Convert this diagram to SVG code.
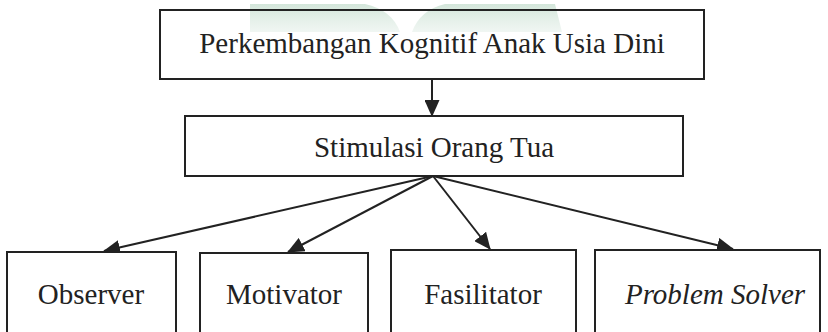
<svg xmlns="http://www.w3.org/2000/svg" width="828" height="332" viewBox="0 0 828 332">
<style>
.box{fill:none;stroke:#222;stroke-width:2}
.bx{fill:#fff;stroke:#222;stroke-width:2}
.c{stroke:#222;stroke-width:2;fill:none;marker-end:url(#ah)}
</style>
<defs>
<marker id="ah" markerUnits="userSpaceOnUse" markerWidth="17" markerHeight="15" refX="16" refY="7.5" orient="auto">
<path d="M0,0 L17,7.5 L0,15 Z" fill="#222"/>
</marker>
<linearGradient id="wm" x1="0" y1="0" x2="0" y2="1">
<stop offset="0" stop-color="#d3e6da"/>
<stop offset="1" stop-color="#e6f0ea" stop-opacity="0.6"/>
</linearGradient>
</defs>
<g id="watermark" fill="url(#wm)">
<path d="M250,4 L365,4 Q392,10 400,32 L250,32 Z"/>
<path d="M445,4 L555,4 L562,32 L412,32 Q420,10 445,4 Z"/>
</g>
<g id="connectors">
<line class="c" x1="432" y1="79" x2="432" y2="116"/>
<line class="c" x1="433" y1="176" x2="104" y2="251"/>
<line class="c" x1="433" y1="176" x2="288" y2="252"/>
<line class="c" x1="433" y1="176" x2="490" y2="249"/>
<line class="c" x1="433" y1="176" x2="733" y2="249"/>
</g>
<g font-family="Liberation Serif, serif" font-size="29" fill="#222" text-anchor="middle">
<g id="n-top">
<rect class="box" x="160" y="10" width="544" height="69"/>
<text x="432" y="53">Perkembangan Kognitif Anak Usia Dini</text>
</g>
<g id="n-stim">
<rect class="bx" x="185" y="116" width="498" height="60"/>
<text x="434" y="157">Stimulasi Orang Tua</text>
</g>
<g id="n-observer">
<rect class="bx" x="7" y="252" width="169" height="100"/>
<text x="91" y="304">Observer</text>
</g>
<g id="n-motivator">
<rect class="bx" x="200" y="253" width="168" height="100"/>
<text x="284" y="304">Motivator</text>
</g>
<g id="n-fasilitator">
<rect class="bx" x="391" y="250" width="185" height="100"/>
<text x="483" y="304">Fasilitator</text>
</g>
<g id="n-problem">
<rect class="bx" x="595" y="250" width="225" height="100"/>
<text x="715" y="304" font-style="italic">Problem Solver</text>
</g>
</g>
</svg>
